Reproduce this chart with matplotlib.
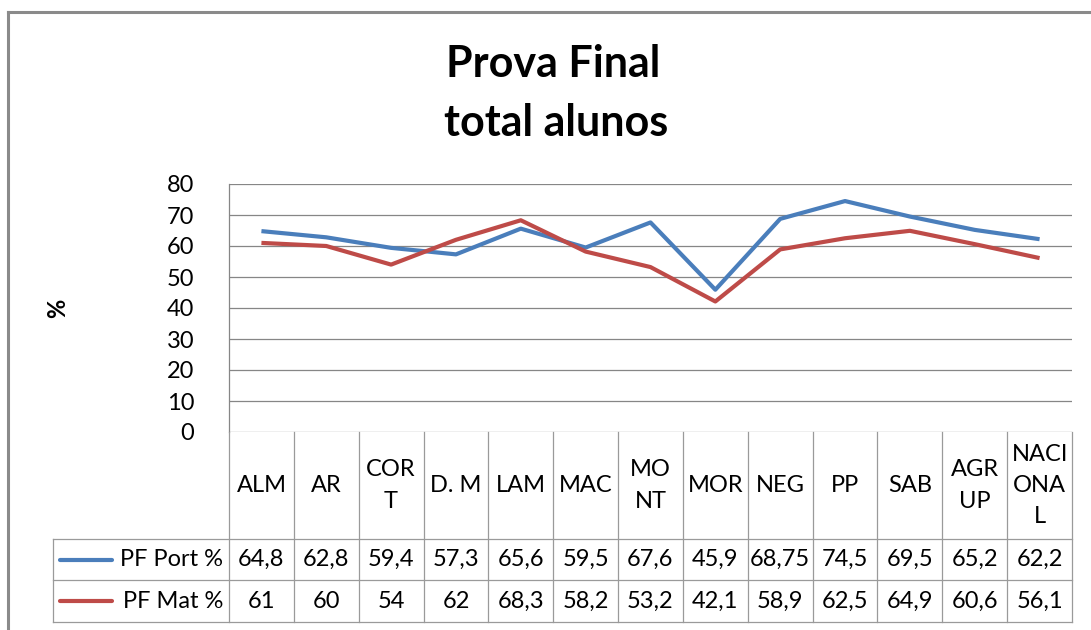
import matplotlib
matplotlib.use("Agg")
import matplotlib.pyplot as plt
from matplotlib.transforms import blended_transform_factory
from matplotlib.lines import Line2D

plt.rcParams['font.family'] = ['Lato', 'DejaVu Sans']

categories = ["ALM", "AR", "COR\nT", "D. M", "LAM", "MAC", "MO\nNT", "MOR", "NEG",
              "PP", "SAB", "AGR\nUP", "NACI\nONA\nL"]
pf_port = [64.8, 62.8, 59.4, 57.3, 65.6, 59.5, 67.6, 45.9, 68.75, 74.5, 69.5, 65.2, 62.2]
pf_mat = [61, 60, 54, 62, 68.3, 58.2, 53.2, 42.1, 58.9, 62.5, 64.9, 60.6, 56.1]
port_labels = ["64,8", "62,8", "59,4", "57,3", "65,6", "59,5", "67,6", "45,9", "68,75",
               "74,5", "69,5", "65,2", "62,2"]
mat_labels = ["61", "60", "54", "62", "68,3", "58,2", "53,2", "42,1", "58,9", "62,5",
              "64,9", "60,6", "56,1"]
series_names = ["PF Port %", "PF Mat %"]
yticks = [0, 10, 20, 30, 40, 50, 60, 70, 80]

W, H = 1091, 630
BLUE = '#4A7EBB'
RED = '#BE4B48'
GRID = '#868686'
TBL = '#9A9A9A'

def fx(px):
    return px / W

def fy(py):
    return 1 - py / H

fig = plt.figure(figsize=(W / 100, H / 100), dpi=100)
fig.patch.set_facecolor('white')

# outer chart frame (left and top visible)
fig.add_artist(Line2D([fx(8), fx(8)], [fy(12), 0], transform=fig.transFigure,
                      color='#8A8A8A', lw=2.2))
fig.add_artist(Line2D([fx(8), 1], [fy(12), fy(12)], transform=fig.transFigure,
                      color='#8A8A8A', lw=2.2))

# Title
fig.text(fx(553), fy(64), "Prova Final", ha='center', va='center',
         fontsize=31, fontweight='bold')
fig.text(fx(556), fy(123), "total alunos", ha='center', va='center',
         fontsize=31, fontweight='bold')

left, right, top, bottom = 229, 1072, 184, 432
ax = fig.add_axes([fx(left), fy(bottom), fx(right - left), fy(top) - fy(bottom)])
n = len(categories)
x = list(range(n))
ax.set_xlim(-0.5, n - 0.5)
ax.set_ylim(0, 80)
ax.set_yticks(yticks)
ax.set_yticklabels([str(v) for v in yticks], fontsize=17)
ax.tick_params(axis='y', length=0, pad=25)
ax.tick_params(axis='x', length=0, labelbottom=False)
for v in yticks:
    ax.axhline(v, color=GRID, lw=0.9, zorder=1)
for s in ['top', 'right', 'bottom']:
    ax.spines[s].set_visible(False)
ax.spines['left'].set_color(GRID)
ax.spines['left'].set_linewidth(0.9)

ax.plot(x, pf_port, color=BLUE, lw=3, solid_capstyle='butt', zorder=3)
ax.plot(x, pf_mat, color=RED, lw=3, solid_capstyle='butt', zorder=3)

# y-axis title
fig.text(fx(58), fy(308), "%", rotation=90, ha='center', va='center',
         fontsize=17, fontweight='bold')

# Data table below
trans = blended_transform_factory(ax.transData, fig.transFigure)
y_cat_top, y_r1, y_r2, y_bot = 432, 539, 580, 622
x_tbl_left = 53

for i in range(n + 1):
    xb = i - 0.5
    fig.add_artist(Line2D([xb, xb], [fy(y_cat_top), fy(y_bot)], transform=trans,
                          color=TBL, lw=0.9))
for yy in [y_r1, y_r2, y_bot]:
    fig.add_artist(Line2D([fx(x_tbl_left), fx(right)], [fy(yy), fy(yy)],
                          transform=fig.transFigure, color=TBL, lw=0.9))
fig.add_artist(Line2D([fx(x_tbl_left), fx(x_tbl_left)], [fy(y_r1), fy(y_bot)],
                      transform=fig.transFigure, color=TBL, lw=0.9))

fs = 17
for i, c in enumerate(categories):
    fig.text(i, fy((y_cat_top + y_r1) / 2), c, transform=trans, ha='center',
             va='center', fontsize=fs, linespacing=1.6)
    fig.text(i, fy((y_r1 + y_r2) / 2), port_labels[i], transform=trans,
             ha='center', va='center', fontsize=fs)
    fig.text(i, fy((y_r2 + y_bot) / 2), mat_labels[i], transform=trans,
             ha='center', va='center', fontsize=fs)

# legend keys in the table
for (yy0, yy1), name, col in [((y_r1, y_r2), series_names[0], BLUE),
                               ((y_r2, y_bot), series_names[1], RED)]:
    yc = fy((yy0 + yy1) / 2)
    fig.add_artist(Line2D([fx(60), fx(112)], [yc, yc], transform=fig.transFigure,
                          color=col, lw=3, solid_capstyle='round'))
    fig.text(fx(223), yc, name, ha='right', va='center', fontsize=fs)

fig.savefig("out.png", dpi=100, facecolor='white')
